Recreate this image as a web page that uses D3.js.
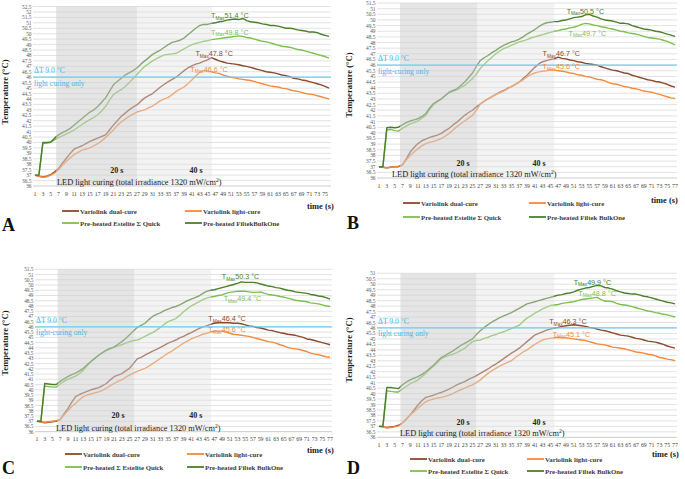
<!DOCTYPE html>
<html><head><meta charset="utf-8">
<script src="https://cdn.jsdelivr.net/npm/d3@7"></script>
<style>body{margin:0;background:#fff}svg{display:block}</style>
</head><body>
<svg id="chart" width="685" height="479"></svg>
<script>
// ---------- DATA ----------
const timeA = [1,2,3,4,5,6,7,8,9,10,11,12,13,14,15,16,17,18,19,20,21,22,23,24,25,26,27,28,29,30,31,32,33,34,35,36,37,38,39,40,41,42,43,44,45,46,47,48,49,50,51,52,53,54,55,56,57,58,59,60,61,62,63,64,65,66,67,68,69,70,71,72,73,74,75,76];
const time77 = [1,2,3,4,5,6,7,8,9,10,11,12,13,14,15,16,17,18,19,20,21,22,23,24,25,26,27,28,29,30,31,32,33,34,35,36,37,38,39,40,41,42,43,44,45,46,47,48,49,50,51,52,53,54,55,56,57,58,59,60,61,62,63,64,65,66,67,68,69,70,71,72,73,74,75,76,77];

const yTicksA = [36,36.5,37,37.5,38,38.5,39,39.5,40,40.5,41,41.5,42,42.5,43,43.5,44,44.5,45,45.5,46,46.5,47,47.5,48,48.5,49,49.5,50,50.5,51,51.5,52,52.5];
const yTicksBC = [36,36.5,37,37.5,38,38.5,39,39.5,40,40.5,41,41.5,42,42.5,43,43.5,44,44.5,45,45.5,46,46.5,47,47.5,48,48.5,49,49.5,50,50.5,51,51.5];
const yTicksD = [36,36.5,37,37.5,38,38.5,39,39.5,40,40.5,41,41.5,42,42.5,43,43.5,44,44.5,45,45.5,46,46.5,47,47.5,48,48.5,49,49.5,50,50.5,51];

const namesA = ["Variolink dual-cure","Variolink light-cure","Pre-heated  Estelite Σ Quick","Pre-heated FiltekBulkOne"];
const namesB = ["Variolink dual-cure","Variolink light-cure","Pre-heated  Estelite Σ Quick","Pre-heated Filtek BulkOne"];
const namesC = ["Variolink dual-cure","Variolink light-cure","Pre-heated  Σ Estelite Quick","Pre-heated Filtek BulkOne"];
const namesD = ["Variolink dual-cure","Variolink light-cure","Pre-heated  Estelite Σ Quick","Pre-heated Filtek BulkOne"];

const tmaxA = ["47.8","46.6","49.8","51.4"];
const tmaxB = ["46.7","45.6","49.7","50.5"];
const tmaxC = ["46.4","45.6","49.4","50.3"];
const tmaxD = ["46.3","45.1","48.8","49.9"];

const deltaT = "ΔT 9.0 °C";
const thresholdT = 46;

// Panel A
const dualA = [37.0,36.9,36.85,36.9,37.05,37.3,37.6,38.1,38.55,39.0,39.4,39.55,39.7,39.9,40.1,40.25,40.4,40.55,40.7,41.15,41.6,42.0,42.4,42.7,43.0,43.25,43.45,43.8,44.1,44.3,44.5,44.8,45.1,45.35,45.6,45.8,46.0,46.3,46.6,46.85,47.05,47.2,47.3,47.45,47.6,47.8,47.65,47.5,47.4,47.3,47.25,47.2,47.15,47.05,47.0,46.9,46.8,46.7,46.6,46.5,46.45,46.4,46.3,46.2,46.15,46.05,45.9,45.85,45.75,45.7,45.6,45.5,45.4,45.3,45.15,45.0];
const lightA = [37.0,36.9,36.8,36.85,37.0,37.2,37.5,37.9,38.25,38.6,38.9,39.1,39.3,39.4,39.5,39.7,39.9,40.15,40.45,40.8,41.15,41.55,41.9,42.15,42.4,42.6,42.8,42.9,43.0,43.2,43.35,43.6,43.85,44.0,44.15,44.4,44.7,44.9,45.1,45.4,45.75,46.1,46.45,46.6,46.55,46.5,46.4,46.35,46.2,46.1,46.0,45.95,45.85,45.8,45.75,45.7,45.6,45.5,45.4,45.3,45.2,45.15,45.1,45.0,44.95,44.85,44.75,44.7,44.6,44.5,44.45,44.4,44.3,44.2,44.1,44.0];
const esteliteA = [37.0,37.0,39.9,39.95,40.0,40.25,40.45,40.6,40.8,40.95,41.15,41.4,41.65,41.9,42.1,42.3,42.55,42.9,43.3,43.9,44.4,44.65,44.85,45.15,45.5,45.85,46.25,46.65,47.0,47.25,47.5,47.7,47.9,48.05,48.1,48.15,48.2,48.4,48.6,48.8,49.0,49.1,49.2,49.3,49.35,49.45,49.5,49.55,49.6,49.65,49.7,49.75,49.8,49.75,49.65,49.6,49.5,49.4,49.3,49.25,49.15,49.05,48.95,48.85,48.8,48.75,48.65,48.55,48.5,48.4,48.3,48.2,48.1,48.0,47.9,47.75];
const filtekA = [37.0,37.0,40.0,40.0,40.05,40.4,40.7,40.9,41.1,41.3,41.6,41.9,42.2,42.5,42.8,43.0,43.3,43.7,44.1,44.7,45.3,45.6,45.9,46.2,46.4,46.6,46.85,47.2,47.5,47.8,48.1,48.3,48.5,48.75,49.0,49.2,49.3,49.4,49.6,49.9,50.2,50.5,50.75,50.85,50.85,50.95,51.0,51.1,51.15,51.25,51.3,51.35,51.3,51.4,51.2,51.1,51.05,51.0,50.9,50.85,50.75,50.75,50.7,50.6,50.5,50.5,50.45,50.35,50.3,50.25,50.15,50.15,50.1,49.95,49.85,49.75];

// Panel B
const dualB = [37.0,36.95,36.9,36.95,37.0,37.0,37.15,37.7,38.3,38.7,39.05,39.3,39.45,39.6,39.7,39.8,39.95,40.2,40.4,40.7,40.95,41.25,41.55,41.8,42.0,42.3,42.55,42.8,43.0,43.2,43.4,43.6,43.75,43.95,44.1,44.3,44.5,44.8,45.1,45.45,45.8,46.1,46.3,46.4,46.5,46.55,46.7,46.6,46.55,46.45,46.4,46.3,46.25,46.15,46.1,46.05,46.0,45.85,45.75,45.65,45.55,45.5,45.4,45.3,45.25,45.1,45.0,44.9,44.8,44.7,44.65,44.55,44.5,44.4,44.3,44.15,44.05];
const lightB = [37.0,36.95,36.9,36.95,37.0,37.05,37.15,37.6,38.0,38.3,38.6,38.85,39.05,39.15,39.25,39.35,39.5,39.7,39.95,40.25,40.55,40.8,41.05,41.3,41.55,42.0,42.55,42.8,43.0,43.2,43.4,43.55,43.7,43.9,44.1,44.3,44.5,44.7,44.95,45.15,45.3,45.4,45.45,45.5,45.6,45.55,45.5,45.45,45.4,45.3,45.25,45.15,45.1,45.0,44.95,44.85,44.75,44.7,44.6,44.45,44.35,44.3,44.2,44.1,44.05,43.95,43.9,43.8,43.7,43.65,43.6,43.5,43.4,43.3,43.2,43.1,43.05];
const esteliteB = [37.0,37.0,40.25,40.3,40.2,40.15,40.4,40.6,40.8,40.9,41.05,41.3,41.55,42.05,42.5,42.75,43.0,43.3,43.55,43.7,43.8,44.0,44.2,44.5,44.8,45.2,45.7,46.05,46.4,46.7,47.0,47.25,47.45,47.6,47.75,47.9,48.05,48.15,48.25,48.4,48.5,48.6,48.7,48.8,48.9,49.0,49.05,49.15,49.2,49.3,49.35,49.45,49.6,49.7,49.65,49.55,49.5,49.4,49.35,49.25,49.2,49.1,49.0,48.95,48.85,48.8,48.75,48.65,48.55,48.45,48.4,48.35,48.3,48.2,48.1,47.95,47.8];
const filtekB = [37.0,37.0,40.45,40.5,40.45,40.5,40.7,40.9,41.05,41.15,41.25,41.45,41.7,42.2,42.6,42.8,43.0,43.3,43.6,43.75,43.9,44.2,44.5,44.9,45.3,45.9,46.4,46.65,46.85,47.1,47.3,47.55,47.75,47.9,48.05,48.15,48.3,48.5,48.75,48.95,49.15,49.4,49.6,49.75,49.8,49.85,49.85,49.95,50.0,50.1,50.2,50.25,50.3,50.45,50.5,50.35,50.25,50.1,50.0,49.95,49.9,49.8,49.7,49.7,49.65,49.5,49.4,49.3,49.2,49.15,49.1,49.0,48.95,48.85,48.75,48.65,48.55];

// Panel C
const dualC = [37.0,36.95,36.85,36.9,36.95,37.0,37.15,37.7,38.2,38.8,39.35,39.55,39.7,39.85,40.0,40.1,40.2,40.4,40.6,40.95,41.25,41.4,41.55,41.8,42.05,42.5,42.95,43.1,43.3,43.5,43.7,43.85,44.05,44.25,44.45,44.6,44.75,44.95,45.1,45.3,45.45,45.65,45.85,46.0,46.1,46.25,46.35,46.4,46.4,46.4,46.4,46.35,46.35,46.3,46.2,46.1,46.05,45.95,45.9,45.8,45.7,45.65,45.55,45.45,45.4,45.3,45.25,45.2,45.1,45.0,44.85,44.8,44.7,44.6,44.5,44.4,44.3];
const lightC = [37.0,36.95,36.9,36.95,37.0,37.05,37.15,37.6,38.0,38.4,38.7,39.05,39.35,39.5,39.6,39.7,39.8,39.95,40.15,40.4,40.6,40.8,40.95,41.2,41.4,41.6,41.75,41.9,42.05,42.25,42.5,42.75,43.0,43.25,43.5,43.7,43.95,44.2,44.45,44.65,44.85,45.0,45.15,45.3,45.4,45.5,45.6,45.6,45.6,45.5,45.4,45.3,45.25,45.2,45.15,45.1,45.0,44.9,44.8,44.7,44.6,44.55,44.45,44.3,44.2,44.05,43.95,43.9,43.85,43.75,43.65,43.5,43.4,43.35,43.25,43.15,43.1];
const esteliteC = [37.0,37.0,40.35,40.3,40.25,40.25,40.55,40.8,41.0,41.15,41.3,41.55,41.85,42.3,42.7,43.0,43.3,43.55,43.75,43.9,44.05,44.2,44.3,44.45,44.6,44.7,44.75,44.9,45.1,45.3,45.45,45.7,45.95,46.25,46.5,46.65,46.8,47.1,47.45,47.75,48.0,48.2,48.4,48.6,48.75,48.85,48.9,49.0,49.05,49.2,49.3,49.35,49.4,49.4,49.4,49.35,49.3,49.3,49.35,49.2,49.1,49.05,49.0,48.9,48.85,48.75,48.65,48.55,48.5,48.45,48.4,48.3,48.25,48.2,48.1,48.0,47.95];
const filtekC = [37.0,37.0,40.6,40.55,40.5,40.5,40.8,41.05,41.25,41.45,41.6,41.8,42.05,42.4,42.7,43.0,43.3,43.55,43.8,43.95,44.1,44.35,44.6,44.9,45.25,45.6,45.95,46.15,46.35,46.7,47.0,47.2,47.35,47.55,47.7,47.85,47.95,48.1,48.3,48.5,48.65,48.8,48.95,49.2,49.4,49.5,49.55,49.65,49.75,49.85,49.95,50.05,50.15,50.3,50.25,50.25,50.25,50.2,50.1,50.0,49.9,49.85,49.75,49.7,49.6,49.5,49.45,49.35,49.3,49.25,49.2,49.1,49.05,48.95,48.9,48.8,48.65];

// Panel D
const dualD = [37.0,36.95,36.9,36.95,37.0,37.1,37.3,37.65,38.05,38.5,38.95,39.35,39.65,39.75,39.85,40.0,40.1,40.25,40.4,40.6,40.8,40.95,41.1,41.3,41.45,41.65,41.85,42.05,42.25,42.5,42.7,42.95,43.2,43.45,43.7,43.9,44.15,44.45,44.75,45.05,45.35,45.5,45.65,45.8,45.9,46.0,46.05,46.15,46.2,46.25,46.3,46.25,46.2,46.15,46.05,46.0,45.9,45.8,45.75,45.65,45.55,45.45,45.35,45.3,45.25,45.15,45.05,45.0,44.9,44.8,44.75,44.7,44.6,44.5,44.35,44.25,44.15];
const lightD = [37.0,36.95,36.85,36.9,36.95,37.05,37.3,37.7,38.05,38.35,38.65,38.95,39.25,39.4,39.5,39.6,39.65,39.75,39.85,40.0,40.2,40.35,40.5,40.65,40.8,41.0,41.25,41.55,41.85,42.1,42.3,42.5,42.7,42.85,43.0,43.3,43.55,43.8,44.0,44.25,44.5,44.7,44.9,45.0,45.05,45.1,45.15,45.1,45.1,45.05,45.0,44.95,44.9,44.85,44.75,44.65,44.55,44.5,44.45,44.35,44.25,44.2,44.15,44.1,44.0,43.9,43.8,43.75,43.7,43.6,43.55,43.45,43.3,43.25,43.15,43.1,43.0];
const esteliteD = [37.0,37.0,40.25,40.2,40.15,40.15,40.4,40.65,40.9,41.05,41.25,41.55,41.85,42.2,42.5,42.85,43.2,43.35,43.5,43.6,43.75,43.95,44.15,44.45,44.75,44.85,44.9,45.05,45.15,45.3,45.4,45.55,45.65,45.8,45.95,46.1,46.25,46.6,46.9,47.1,47.35,47.55,47.75,47.9,48.05,48.1,48.15,48.25,48.3,48.35,48.4,48.5,48.6,48.65,48.7,48.75,48.8,48.6,48.45,48.45,48.4,48.25,48.15,48.1,48.05,47.95,47.85,47.75,47.65,47.55,47.5,47.4,47.35,47.25,47.2,47.1,47.0];
const filtekD = [37.0,37.0,40.55,40.55,40.5,40.45,40.8,41.05,41.25,41.4,41.55,41.75,42.0,42.3,42.6,42.95,43.3,43.5,43.7,43.9,44.15,44.4,44.6,44.8,45.0,45.4,45.75,46.05,46.3,46.55,46.75,46.95,47.1,47.25,47.4,47.6,47.8,48.0,48.2,48.3,48.4,48.5,48.6,48.7,48.8,48.9,49.0,49.05,49.15,49.2,49.3,49.45,49.55,49.65,49.7,49.8,49.9,49.85,49.7,49.65,49.55,49.4,49.3,49.2,49.15,49.1,49.1,49.0,48.9,48.85,48.75,48.65,48.55,48.45,48.35,48.3,48.2];

// ---------- STYLE / LAYOUT ----------
const colors = ["#8b4a2e","#f28a3f","#7cc050","#4b7f2b"];
const serif = "'Liberation Serif','Times New Roman',serif";

const panels = [
 {letter:"A", cats:timeA, yTicks:yTicksA, series:[dualA,lightA,esteliteA,filtekA], names:namesA, tmax:tmaxA, curing:"light curing only",
  xr:[35,329], yr:[186,6.5], shade:[6.4,27,46.1],
  tpos:[[46.7,47.93],[45.4,46.5],[50.7,49.9],[50.7,51.44]],
  s20:[21.9,37.15], s40:[42.1,37.15], ledX:57, ylabY:92, ylabX:8,
  leg:{y1:213.5,y2:225.5,c1:62,c2:185}, timeX:307, timeY:209, letterXY:[2,231]},
 {letter:"B", cats:time77, yTicks:yTicksBC, series:[dualB,lightB,esteliteB,filtekB], names:namesB, tmax:tmaxB, curing:"light-curing only",
  xr:[379,675], yr:[178,3], shade:[6.4,26.2,46.0],
  tpos:[[47.8,46.8],[47.8,45.65],[54.5,48.58],[54,50.57]],
  s20:[22.6,37.1], s40:[42.1,37.1], ledX:392, ylabY:85, ylabX:352,
  leg:{y1:205.5,y2:219.5,c1:403,c2:529}, timeX:651, timeY:203, letterXY:[347,229]},
 {letter:"C", cats:time77, yTicks:yTicksBC, series:[dualC,lightC,esteliteC,filtekC], names:namesC, tmax:tmaxC, curing:"light-curing only",
  xr:[37,330], yr:[431.7,269.3], shade:[6.35,26.2,46.1],
  tpos:[[50.3,46.56],[50.3,45.51],[54.3,48.47],[53.8,50.57]],
  s20:[22,37.26], s40:[42.2,37.26], ledX:56, ylabY:343, ylabX:8,
  leg:{y1:456.5,y2:469.5,c1:65,c2:187}, timeX:307, timeY:453, letterXY:[2,474]},
 {letter:"D", cats:time77, yTicks:yTicksD, series:[dualD,lightD,esteliteD,filtekD], names:namesD, tmax:tmaxD, curing:"light curing only",
  xr:[379,675], yr:[437.3,273.3], shade:[6.5,26.0,46.0],
  tpos:[[49.5,46.33],[50.4,45.18],[57,48.93],[55.8,49.93]],
  s20:[22.6,37.08], s40:[42.1,37.08], ledX:400, ylabY:350, ylabX:352,
  leg:{y1:461.5,y2:473.5,c1:410,c2:527}, timeX:652, timeY:457, letterXY:[347,474]}
];

const svg = d3.select("#chart");

panels.forEach(p => {
  const g = svg.append("g");
  const n = p.cats.length;
  const x = d3.scaleLinear().domain([1, n]).range(p.xr);
  const step = (p.xr[1]-p.xr[0])/(n-1);
  const y = d3.scaleLinear().domain([p.yTicks[0], p.yTicks[p.yTicks.length-1]]).range(p.yr);
  const gx0 = p.xr[0]-step/2, gx1 = p.xr[1]+step/2;

  // gridlines
  g.append("g").selectAll("line").data(p.yTicks).join("line")
    .attr("x1", gx0).attr("x2", gx1)
    .attr("y1", d=>y(d)).attr("y2", d=>y(d))
    .attr("stroke", d=> d===p.yTicks[0] ? "#bfbfbf" : "#dadada").attr("stroke-width", 0.8);

  // y tick labels
  g.append("g").selectAll("text").data(p.yTicks).join("text")
    .attr("x", gx0-1.5).attr("y", d=>y(d)+2)
    .attr("text-anchor","end").attr("font-family", serif).attr("font-size", 5.4)
    .attr("fill","#595959").text(d=>d);

  // x tick labels (odd categories)
  g.append("g").selectAll("text").data(p.cats.filter(c=>c%2===1)).join("text")
    .attr("x", d=>x(d)).attr("y", p.yr[0]+9.5)
    .attr("text-anchor","middle").attr("font-family", serif).attr("font-size", 5.8)
    .attr("fill","#404040").text(d=>d);

  // series lines
  const line = d3.line().x((d,i)=>x(p.cats[i])).y(d=>y(d));
  [0,1,2,3].forEach(k=>{
    g.append("path").datum(p.series[k]).attr("d", line)
      .attr("fill","none").attr("stroke", colors[k]).attr("stroke-width",1.4)
      .attr("stroke-linejoin","round");
  });

  // shading overlays
  const top = p.yr[1], bot = p.yr[0];
  g.append("rect").attr("x", x(p.shade[0])).attr("y", top)
    .attr("width", x(p.shade[1])-x(p.shade[0])).attr("height", bot-top)
    .attr("fill","#cfcfcf").attr("opacity",0.55);
  g.append("rect").attr("x", x(p.shade[1])).attr("y", top)
    .attr("width", x(p.shade[2])-x(p.shade[1])).attr("height", bot-top)
    .attr("fill","#e2e2e2").attr("opacity",0.4);

  // threshold line
  const yt = y(thresholdT);
  g.append("line").attr("x1", gx0).attr("x2", gx1).attr("y1", yt).attr("y2", yt)
    .attr("stroke","#6fcdf0").attr("stroke-width",1.3);
  g.append("text").attr("x", gx0+1).attr("y", yt-4).attr("font-family", serif)
    .attr("font-size",7.6).attr("fill","#45b6e6").text(deltaT);
  g.append("text").attr("x", gx0+1).attr("y", yt+8.5).attr("font-family", serif)
    .attr("font-size",7.6).attr("fill","#45b6e6").text(p.curing);

  // TMax labels
  [0,1,2,3].forEach(k=>{
    const t = g.append("text").attr("x", x(p.tpos[k][0])).attr("y", y(p.tpos[k][1]))
      .attr("text-anchor","middle").attr("font-family","'Liberation Sans',Arial,sans-serif")
      .attr("font-size",7.2).attr("fill", colors[k]);
    t.append("tspan").text("T");
    t.append("tspan").attr("font-size",4.8).attr("dy",1.5).text("Max");
    t.append("tspan").attr("dy",-1.5).text(p.tmax[k]+" °C");
  });

  // 20 s / 40 s
  [[p.s20,"20 s"],[p.s40,"40 s"]].forEach(([pos,txt])=>{
    g.append("text").attr("x", x(pos[0])).attr("y", y(pos[1])).attr("text-anchor","middle")
      .attr("font-family", serif).attr("font-weight","bold").attr("font-size",8).attr("fill","#262626").text(txt);
  });

  // LED text
  const led = g.append("text").attr("x", p.ledX).attr("y", bot-1).attr("font-family", serif)
    .attr("font-size",8.3).attr("fill","#1a1a1a");
  led.append("tspan").text("LED light  curing (total irradiance 1320 mW/cm");
  led.append("tspan").attr("font-size",5.5).attr("dy",-3).text("2");
  led.append("tspan").attr("dy",3).text(")");

  // y axis title
  g.append("text").attr("transform",`translate(${p.ylabX},${p.ylabY}) rotate(-90)`)
    .attr("text-anchor","middle").attr("font-family", serif).attr("font-weight","bold")
    .attr("font-size",8.6).attr("fill","#1a1a1a").text("Temperature (°C)");

  // time (s)
  g.append("text").attr("x", p.timeX).attr("y", p.timeY).attr("font-family", serif)
    .attr("font-weight","bold").attr("font-size",8.4).attr("fill","#1a1a1a").text("time (s)");

  // legend
  const legPos = [[p.leg.c1,p.leg.y1],[p.leg.c2,p.leg.y1],[p.leg.c1,p.leg.y2],[p.leg.c2,p.leg.y2]];
  [0,1,2,3].forEach(k=>{
    const [lx,ly] = legPos[k];
    g.append("line").attr("x1",lx).attr("x2",lx+17).attr("y1",ly-2.5).attr("y2",ly-2.5)
      .attr("stroke",colors[k]).attr("stroke-width",1.8);
    g.append("text").attr("x",lx+18).attr("y",ly).attr("font-family",serif)
      .attr("font-weight","bold").attr("font-size",6.8).attr("fill","#404040").text(p.names[k]);
  });

  // panel letter
  g.append("text").attr("x",p.letterXY[0]).attr("y",p.letterXY[1]).attr("font-family",serif)
    .attr("font-weight","bold").attr("font-size",18).attr("fill","#111").text(p.letter);
});
</script>
</body></html>
